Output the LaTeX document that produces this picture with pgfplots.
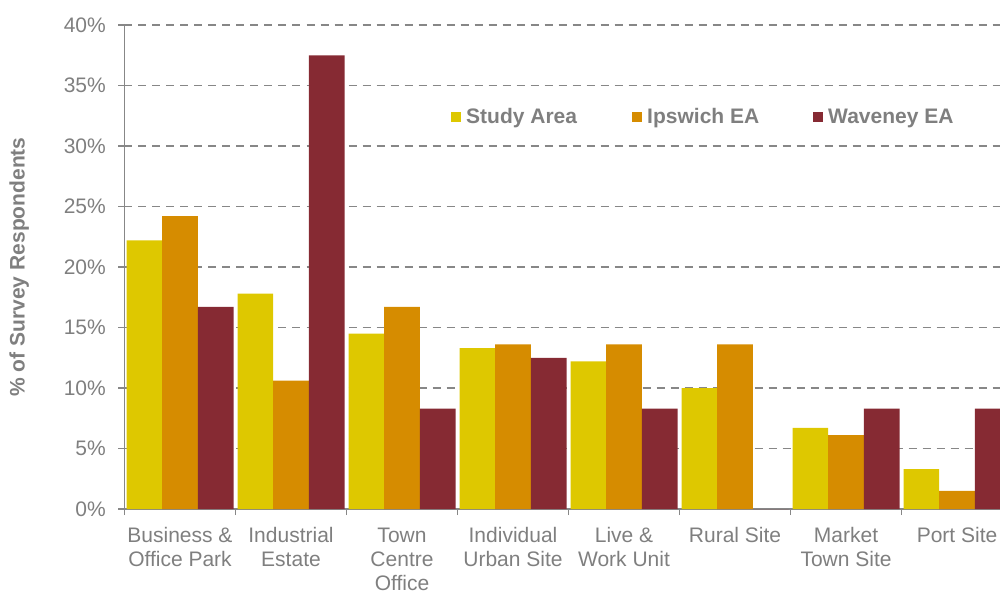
\documentclass[border=0pt]{standalone}
\usepackage{fontspec}
\setmainfont{Liberation Sans}
\usepackage{pgfplots}
\usepackage{pgfplotstable}
\pgfplotsset{compat=1.18}

\definecolor{studyc}{HTML}{DEC800}
\definecolor{ipsc}{HTML}{D68C00}
\definecolor{wavc}{HTML}{862A33}
\definecolor{txt}{HTML}{7F7F7F}
\definecolor{gridc}{HTML}{878787}

% share of survey respondents (%) by preferred site type
\pgfplotstableread{
x study ipswich waveney
0 22.2 24.2 16.7
1 17.8 10.6 37.5
2 14.5 16.7 8.3
3 13.3 13.6 12.5
4 12.2 13.6 8.3
5 10.0 13.6 0
6 6.7 6.1 8.3
7 3.3 1.5 8.3
}\sitedata

\newcommand{\lblfont}{\fontsize{15.75pt}{18pt}\selectfont}

\begin{document}
\begin{tikzpicture}
\begin{axis}[
  scale only axis, width=656.625pt, height=363pt,
  at={(0,0)}, anchor=south west,
  xmin=-0.5, xmax=7.387, ymin=0, ymax=40,
  ybar=0pt, bar width=0.3213,
  axis x line*=bottom, axis y line*=left,
  axis line style={gridc, line width=1.1pt, -},
  tick align=outside,
  major tick length=4.5pt, minor tick length=4.5pt,
  xtick={0,...,7},
  xticklabels={{Business \&\\Office Park}, {Industrial\\Estate}, {Town\\Centre\\Office},
    {Individual\\Urban Site}, {Live \&\\Work Unit}, {Rural Site}, {Market\\Town Site}, {Port Site}},
  minor xtick={-0.5,0.5,...,6.5},
  major x tick style={draw=none},
  minor x tick style={gridc, line width=1pt},
  ytick={0,5,...,40},
  yticklabels={0\%,5\%,10\%,15\%,20\%,25\%,30\%,35\%,40\%},
  y tick style={gridc, line width=1pt},
  xticklabel style={align=center, font=\lblfont, text=txt, yshift=-6pt},
  yticklabel style={font=\lblfont, text=txt, xshift=-6pt},
  ymajorgrids,
  major grid style={gridc, line width=0.9pt, dash pattern=on 6pt off 4.5pt},
  ylabel={\% of Survey Respondents},
  every axis y label/.style={at={(rel axis cs:0,0.5)}, xshift=-79pt, rotate=90, anchor=center},
  ylabel style={font=\bfseries\lblfont, text=txt},
  legend columns=3,
  legend style={at={(rel axis cs:0.3729,0.81)}, anchor=west, draw=none, fill=none,
    inner sep=0pt, font=\bfseries\lblfont, text=txt,
    nodes={inner sep=0pt},
    /tikz/every odd column/.append style={column sep=3.75pt}},
  legend image code/.code={\fill[#1] (0pt,-3.75pt) rectangle (7.5pt,3.75pt);},
]
\addplot[fill=studyc, draw=none] table[x=x, y=study] {\sitedata};
\addlegendentry{\makebox[124.5pt][l]{Study Area}}
\addplot[fill=ipsc, draw=none] table[x=x, y=ipswich] {\sitedata};
\addlegendentry{\makebox[124.5pt][l]{Ipswich EA}}
\addplot[fill=wavc, draw=none] table[x=x, y=waveney] {\sitedata};
\addlegendentry{Waveney EA}
\end{axis}
\pgfresetboundingbox
\path[use as bounding box] (-93.375pt,-60.75pt) rectangle (656.625pt,381.75pt);
\end{tikzpicture}
\end{document}
